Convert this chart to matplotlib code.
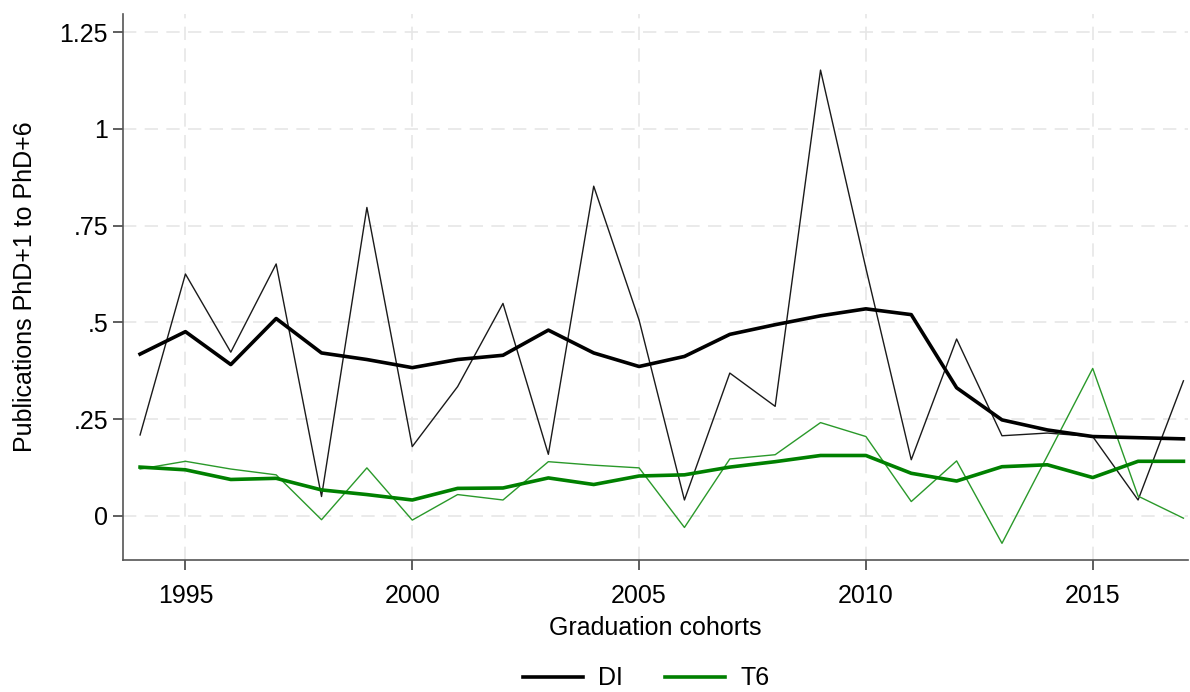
import numpy as np
import matplotlib.pyplot as plt

plt.rcParams['font.family'] = ['Liberation Sans', 'DejaVu Sans']

# Data
years = np.arange(1994, 2018)
di_raw = [0.209, 0.625, 0.423, 0.651, 0.050, 0.797, 0.179, 0.334, 0.549, 0.159,
          0.852, 0.506, 0.041, 0.369, 0.283, 1.152, 0.64, 0.145, 0.457, 0.207,
          0.214, 0.205, 0.041, 0.349]
di_smooth = [0.418, 0.476, 0.391, 0.510, 0.421, 0.404, 0.383, 0.404, 0.415, 0.480,
             0.421, 0.386, 0.412, 0.469, 0.494, 0.517, 0.535, 0.520, 0.331, 0.248,
             0.222, 0.205, 0.202, 0.199]
t6_raw = [0.121, 0.141, 0.121, 0.106, -0.010, 0.124, -0.011, 0.055, 0.041, 0.140,
          0.131, 0.124, -0.030, 0.147, 0.158, 0.241, 0.205, 0.037, 0.142, -0.071,
          0.155, 0.381, 0.051, -0.006]
t6_smooth = [0.126, 0.119, 0.094, 0.097, 0.067, 0.055, 0.041, 0.071, 0.072, 0.098,
             0.081, 0.103, 0.106, 0.126, 0.140, 0.156, 0.156, 0.110, 0.090, 0.127,
             0.132, 0.099, 0.141, 0.141]

xticks = [1995, 2000, 2005, 2010, 2015]
yticks = [0, 0.25, 0.5, 0.75, 1, 1.25]
ytick_labels = ['0', '.25', '.5', '.75', '1', '1.25']

fig = plt.figure(figsize=(11.9, 6.92), dpi=100)
ax = fig.add_axes([0.1036, 0.1908, 0.8947, 0.789])

green = '#008000'
ax.plot(years, di_raw, color='#1a1a1a', lw=1.0)
ax.plot(years, t6_raw, color='#2a992a', lw=1.0)
ax.plot(years, di_smooth, color='black', lw=2.6, label='DI')
ax.plot(years, t6_smooth, color=green, lw=2.6, label='T6')

ax.set_xlim(1993.63, 2017.1)
ax.set_ylim(-0.114, 1.297)
ax.set_xticks(xticks)
ax.set_yticks(yticks)
ax.set_yticklabels(ytick_labels)

ax.grid(True, color='#e6e6e6', lw=1.2, linestyle=(0, (8, 5)))
ax.set_axisbelow(True)

for s in ['top', 'right']:
    ax.spines[s].set_visible(False)
for s in ['left', 'bottom']:
    ax.spines[s].set_color('#555555')
    ax.spines[s].set_linewidth(1.2)

ax.tick_params(axis='both', labelsize=18, length=7, width=1.1, color='#333333', direction='out')
ax.tick_params(axis='x', pad=10)
ax.tick_params(axis='y', pad=4)

ax.set_xlabel('Graduation cohorts', fontsize=18, labelpad=6)
ax.set_ylabel('Publications PhD+1 to PhD+6', fontsize=18, labelpad=16)

fig.legend(loc='lower center', bbox_to_anchor=(0.543, -0.03), ncol=2, frameon=False,
           fontsize=18, handlelength=2.4, columnspacing=1.7, handletextpad=0.6)

fig.savefig('out.png', dpi=100)
